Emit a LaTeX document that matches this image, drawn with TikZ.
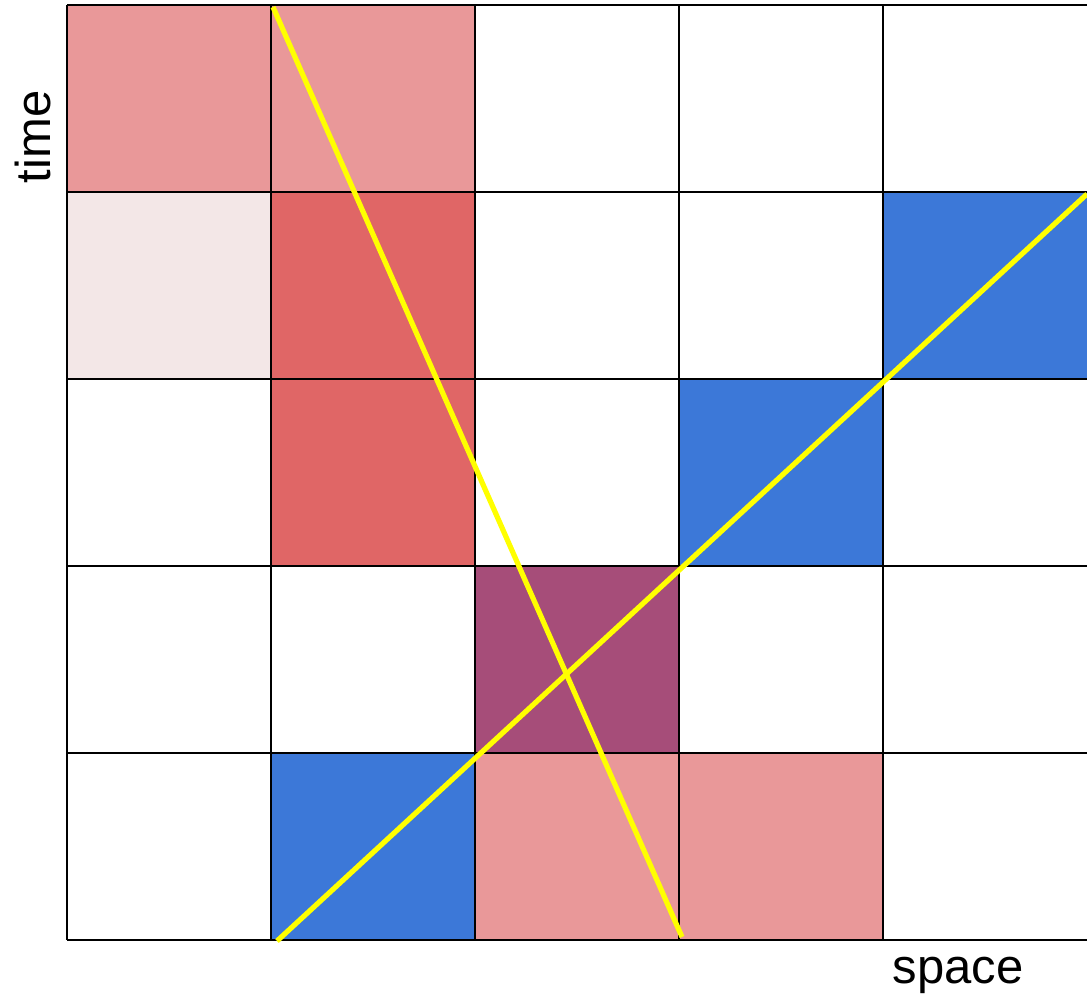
\documentclass[tikz,border=0pt]{standalone}
\usepackage{fontspec}
\setmainfont{Liberation Sans}
\usetikzlibrary{positioning,calc}
\definecolor{pinkcell}{HTML}{E99899}
\definecolor{redcell}{HTML}{E06666}
\definecolor{palecell}{HTML}{F3E7E7}
\definecolor{bluecell}{HTML}{3C78D8}
\definecolor{purplecell}{HTML}{A64D79}
\definecolor{lineyellow}{HTML}{FFFF00}
\tikzset{
  cell/.style={draw=black, line width=1pt},
  worldline/.style={lineyellow, line width=2.6pt},
  axislabel/.style={font=\fontsize{24.5}{28}\selectfont, inner sep=0pt}
}
\begin{document}
\begin{tikzpicture}[x=0.5pt, y=-0.5pt]
  \useasboundingbox (0,0) rectangle (1087,996);

  % Coloured cells (column, row, colour)
  \foreach \c/\r/\col in {0/0/pinkcell, 1/0/pinkcell,
                          0/1/palecell, 1/1/redcell, 4/1/bluecell,
                          1/2/redcell, 3/2/bluecell,
                          2/3/purplecell,
                          1/4/bluecell, 2/4/pinkcell, 3/4/pinkcell} {
    \fill[\col] ({67+204*\c},{5+187*\r}) rectangle ++(204,187);
  }

  % Grid lines
  \foreach \r in {0,1,...,5} {
    \draw[cell] (67,{5+187*\r}) -- (1087,{5+187*\r});
  }
  \foreach \c in {0,1,...,4} {
    \draw[cell] ({67+204*\c},5) -- ({67+204*\c},940);
  }

  % Worldlines
  \coordinate (redtop) at (273,7);
  \coordinate (redbot) at (682,937);
  \coordinate (bluebot) at (277,941);
  \coordinate (bluetop) at (1087,194);
  \draw[worldline] (redtop) -- (redbot);
  \draw[worldline] (bluebot) -- (bluetop);

  % Axis labels
  \node[axislabel, rotate=90] (timelbl) at (33,137) {time};
  \node[axislabel] (spacelbl) at (958,975) {space};
\end{tikzpicture}
\end{document}
